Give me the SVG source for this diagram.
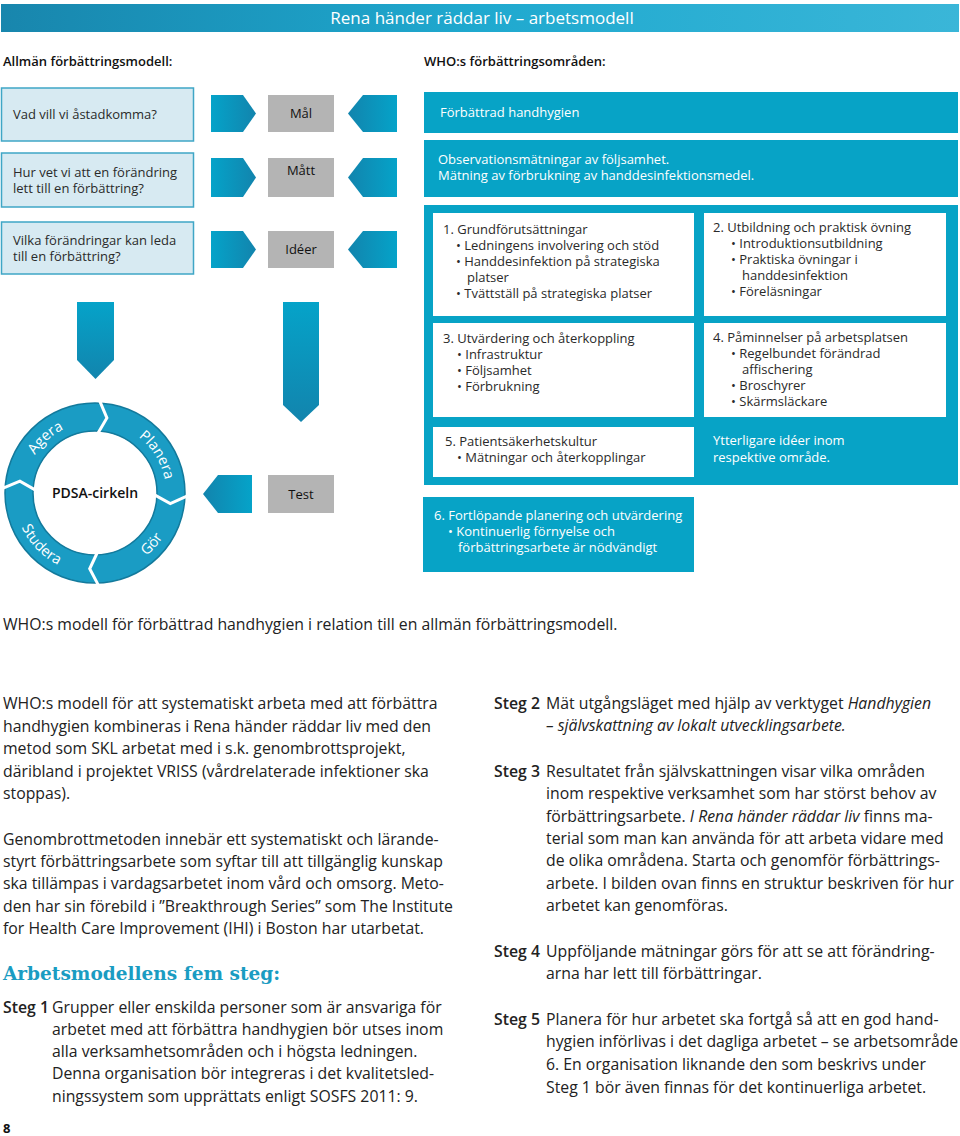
<svg xmlns="http://www.w3.org/2000/svg" width="960" height="1136" viewBox="0 0 960 1136">
<defs>
<linearGradient id="hdr" x1="0" y1="0" x2="1" y2="0">
<stop offset="0" stop-color="#1886ad"/><stop offset="0.5" stop-color="#1fa9cf"/><stop offset="1" stop-color="#3ab6d8"/>
</linearGradient>
<linearGradient id="gR" x1="0" y1="0" x2="1" y2="0">
<stop offset="0" stop-color="#05a3c9"/><stop offset="1" stop-color="#1284ad"/>
</linearGradient>
<linearGradient id="gL" x1="1" y1="0" x2="0" y2="0">
<stop offset="0" stop-color="#05a3c9"/><stop offset="1" stop-color="#1284ad"/>
</linearGradient>
<linearGradient id="gD" x1="0" y1="0" x2="0" y2="1">
<stop offset="0" stop-color="#05a3c9"/><stop offset="1" stop-color="#1284ad"/>
</linearGradient>
<path id="arcTop" d="M 24 493 A 71 71 0 0 1 166 493"/>
<path id="arcBot" d="M 14 493 A 81 81 0 0 0 176 493"/>
</defs>
<style>
text{font-family:"Open Sans",Lato,"DejaVu Sans",sans-serif;}
.t13{font-size:13px;fill:#2a2a2a;}
.w13{font-size:13px;fill:#ffffff;}
.body{font-size:15.8px;fill:#222222;}
.b{font-weight:600;}
.i{font-style:italic;}
.q{fill:#d7eaf2;stroke:#3fa6c6;stroke-width:1.5;}
.g{fill:#b4b4b4;}
.teal{fill:#07a3c6;}
.wb{fill:#ffffff;}
.ring{font-size:14.5px;fill:#ffffff;}
.sep{fill:none;stroke:#ffffff;stroke-width:3;stroke-linejoin:miter;}
</style>

<g id="header">
<rect x="1" y="4" width="958" height="28" fill="url(#hdr)"/>
<text x="482" y="24" text-anchor="middle" style="font-size:17px;fill:#ffffff">Rena händer räddar liv – arbetsmodell</text>
</g>

<text x="3" y="66" class="t13" style="fill:#111;font-weight:600">Allmän förbättringsmodell:</text>
<text x="424" y="66" class="t13" style="fill:#111;font-weight:600">WHO:s förbättringsområden:</text>

<g id="q1"><rect class="q" x="1.5" y="88" width="192" height="53"/>
<text class="t13" x="13" y="119">Vad vill vi åstadkomma?</text></g>
<g id="q2"><rect class="q" x="1.5" y="153" width="192" height="54"/>
<text class="t13" x="13" y="177">Hur vet vi att en förändring</text>
<text class="t13" x="13" y="193">lett till en förbättring?</text></g>
<g id="q3"><rect class="q" x="1.5" y="222" width="192" height="52"/>
<text class="t13" x="13" y="245">Vilka förändringar kan leda</text>
<text class="t13" x="13" y="261">till en förbättring?</text></g>

<g id="mal"><rect class="g" x="268" y="95" width="66" height="37"/>
<text class="t13" x="301" y="118" text-anchor="middle" style="fill:#111">Mål</text></g>
<g id="matt"><rect class="g" x="268" y="158" width="66" height="39"/>
<text class="t13" x="301" y="175" text-anchor="middle" style="fill:#111">Mått</text></g>
<g id="ideer"><rect class="g" x="268" y="231" width="66" height="37"/>
<text class="t13" x="301" y="254" text-anchor="middle" style="fill:#111">Idéer</text></g>
<g id="test"><rect class="g" x="268" y="475" width="66" height="38"/>
<text class="t13" x="301" y="499" text-anchor="middle" style="fill:#111">Test</text></g>

<g id="connectors">
<polygon fill="url(#gR)" points="211,95 243,95 256,113.5 243,132 211,132"/>
<polygon fill="url(#gR)" points="211,158 243,158 256,177.5 243,197 211,197"/>
<polygon fill="url(#gR)" points="211,231 243,231 256,249.5 243,268 211,268"/>
<polygon fill="url(#gL)" points="348,113.5 363,95 397,95 397,132 363,132"/>
<polygon fill="url(#gL)" points="348,177.5 363,158 397,158 397,197 363,197"/>
<polygon fill="url(#gL)" points="348,249.5 363,231 397,231 397,268 363,268"/>
<polygon fill="url(#gD)" points="77,302 114,302 114,360 95.5,379 77,360"/>
<polygon fill="url(#gD)" points="283,302 319,302 319,405 301,422 283,405"/>
<polygon fill="url(#gL)" points="203,494 218,475 252,475 252,513 218,513"/>
</g>

<g id="who1"><rect class="teal" x="424" y="92" width="534" height="41"/>
<text class="w13" x="440" y="117">Förbättrad handhygien</text></g>
<g id="who2"><rect class="teal" x="424" y="140" width="534" height="57"/>
<text class="w13" x="438" y="164">Observationsmätningar av följsamhet.</text>
<text class="w13" x="438" y="180">Mätning av förbrukning av handdesinfektionsmedel.</text></g>

<g id="frame"><rect class="teal" x="424" y="205" width="534" height="280"/>
<text class="w13" x="713" y="445">Ytterligare idéer inom</text>
<text class="w13" x="713" y="462">respektive område.</text></g>

<g id="box1"><rect class="wb" x="433" y="213" width="261" height="103"/>
<text class="t13" x="443" y="234">1. Grundförutsättningar</text>
<text class="t13" x="456" y="250">• Ledningens involvering och stöd</text>
<text class="t13" x="456" y="266">• Handdesinfektion på strategiska</text>
<text class="t13" x="467" y="282">platser</text>
<text class="t13" x="456" y="298">• Tvättställ på strategiska platser</text></g>

<g id="box2"><rect class="wb" x="704" y="213" width="242" height="103"/>
<text class="t13" x="713" y="232">2. Utbildning och praktisk övning</text>
<text class="t13" x="731" y="248">• Introduktionsutbildning</text>
<text class="t13" x="731" y="264">• Praktiska övningar i</text>
<text class="t13" x="742" y="280">handdesinfektion</text>
<text class="t13" x="731" y="296">• Föreläsningar</text></g>

<g id="box3"><rect class="wb" x="433" y="323" width="261" height="94"/>
<text class="t13" x="443" y="343">3. Utvärdering och återkoppling</text>
<text class="t13" x="457" y="359">• Infrastruktur</text>
<text class="t13" x="457" y="375">• Följsamhet</text>
<text class="t13" x="457" y="391">• Förbrukning</text></g>

<g id="box4"><rect class="wb" x="704" y="323" width="242" height="94"/>
<text class="t13" x="713" y="342">4. Påminnelser på arbetsplatsen</text>
<text class="t13" x="731" y="358">• Regelbundet förändrad</text>
<text class="t13" x="742" y="374">affischering</text>
<text class="t13" x="731" y="390">• Broschyrer</text>
<text class="t13" x="731" y="406">• Skärmsläckare</text></g>

<g id="box5"><rect class="wb" x="433" y="427" width="261" height="50"/>
<text class="t13" x="445" y="446">5. Patientsäkerhetskultur</text>
<text class="t13" x="457" y="462">• Mätningar och återkopplingar</text></g>

<g id="box6"><rect class="teal" x="423" y="497" width="271" height="75"/>
<text class="w13" x="434" y="520">6. Fortlöpande planering och utvärdering</text>
<text class="w13" x="448" y="536">• Kontinuerlig förnyelse och</text>
<text class="w13" x="458" y="552">förbättringsarbete är nödvändigt</text></g>

<g id="pdsa">
<path d="M 5 493 A 90 90 0 1 0 185 493 A 90 90 0 1 0 5 493 Z M 33 493 A 62 62 0 1 1 157 493 A 62 62 0 1 1 33 493 Z" fill="#1a9cc4" fill-rule="evenodd" stroke="#137a9c" stroke-width="1.5"/>
<polyline class="sep" points="98.1,433.1 106.9,417.9 99.8,401.1"/>
<polyline class="sep" points="155.0,495.1 170.3,503.6 186.9,496.2"/>
<polyline class="sep" points="97.1,553.0 89.7,568.8 98.2,584.9"/>
<polyline class="sep" points="35.1,489.9 19.9,481.1 3.1,488.2"/>
<text class="ring"><textPath href="#arcTop" startOffset="26.7%" text-anchor="middle">Agera</textPath></text>
<text class="ring"><textPath href="#arcTop" startOffset="82.5%" text-anchor="middle">Planera</textPath></text>
<text class="ring"><textPath href="#arcBot" startOffset="24.4%" text-anchor="middle">Studera</textPath></text>
<text class="ring"><textPath href="#arcBot" startOffset="76.7%" text-anchor="middle">Gör</textPath></text>
<text x="95" y="498" text-anchor="middle" style="font-size:14px;font-weight:600;fill:#111">PDSA-cirkeln</text>
</g>

<text class="body" x="3" y="630">WHO:s modell för förbättrad handhygien i relation till en allmän förbättringsmodell.</text>

<g id="leftcol">
<text class="body" x="3" y="709">WHO:s modell för att systematiskt arbeta med att förbättra</text>
<text class="body" x="3" y="732">handhygien kombineras i Rena händer räddar liv med den</text>
<text class="body" x="3" y="754">metod som SKL arbetat med i s.k. genombrottsprojekt,</text>
<text class="body" x="3" y="777">däribland i projektet VRISS (vårdrelaterade infektioner ska</text>
<text class="body" x="3" y="799">stoppas).</text>
<text class="body" x="3" y="845">Genombrottmetoden innebär ett systematiskt och lärande-</text>
<text class="body" x="3" y="867">styrt förbättringsarbete som syftar till att tillgänglig kunskap</text>
<text class="body" x="3" y="889">ska tillämpas i vardagsarbetet inom vård och omsorg. Meto-</text>
<text class="body" x="3" y="912">den har sin förebild i ”Breakthrough Series” som The Institute</text>
<text class="body" x="3" y="934">for Health Care Improvement (IHI) i Boston har utarbetat.</text>
<text x="3" y="980" textLength="277" lengthAdjust="spacingAndGlyphs" style="font-family:'DejaVu Serif',serif;font-size:19px;font-weight:bold;fill:#1a9cc2">Arbetsmodellens fem steg:</text>
<text class="body b" x="3" y="1013">Steg 1</text>
<text class="body" x="52" y="1013">Grupper eller enskilda personer som är ansvariga för</text>
<text class="body" x="52" y="1035">arbetet med att förbättra handhygien bör utses inom</text>
<text class="body" x="52" y="1057">alla verksamhetsområden och i högsta ledningen.</text>
<text class="body" x="52" y="1079">Denna organisation bör integreras i det kvalitetsled-</text>
<text class="body" x="52" y="1102">ningssystem som upprättats enligt SOSFS 2011: 9.</text>
<text x="3" y="1133" style="font-size:13px;font-weight:bold;fill:#111">8</text>
</g>

<g id="rightcol">
<text class="body b" x="494" y="709">Steg 2</text>
<text class="body" x="546" y="709">Mät utgångsläget med hjälp av verktyget <tspan class="i">Handhygien</tspan></text>
<text class="body i" x="546" y="731">– självskattning av lokalt utvecklingsarbete.</text>
<text class="body b" x="494" y="777">Steg 3</text>
<text class="body" x="546" y="777">Resultatet från självskattningen visar vilka områden</text>
<text class="body" x="546" y="799">inom respektive verksamhet som har störst behov av</text>
<text class="body" x="546" y="822">förbättringsarbete. <tspan class="i">I Rena händer räddar liv</tspan> finns ma-</text>
<text class="body" x="546" y="844">terial som man kan använda för att arbeta vidare med</text>
<text class="body" x="546" y="866">de olika områdena. Starta och genomför förbättrings-</text>
<text class="body" x="546" y="889">arbete. I bilden ovan finns en struktur beskriven för hur</text>
<text class="body" x="546" y="911">arbetet kan genomföras.</text>
<text class="body b" x="494" y="957">Steg 4</text>
<text class="body" x="546" y="957">Uppföljande mätningar görs för att se att förändring-</text>
<text class="body" x="546" y="979">arna har lett till förbättringar.</text>
<text class="body b" x="494" y="1025">Steg 5</text>
<text class="body" x="546" y="1025">Planera för hur arbetet ska fortgå så att en god hand-</text>
<text class="body" x="546" y="1047">hygien införlivas i det dagliga arbetet – se arbetsområde</text>
<text class="body" x="546" y="1070">6. En organisation liknande den som beskrivs under</text>
<text class="body" x="546" y="1093">Steg 1 bör även finnas för det kontinuerliga arbetet.</text>
</g>
</svg>
